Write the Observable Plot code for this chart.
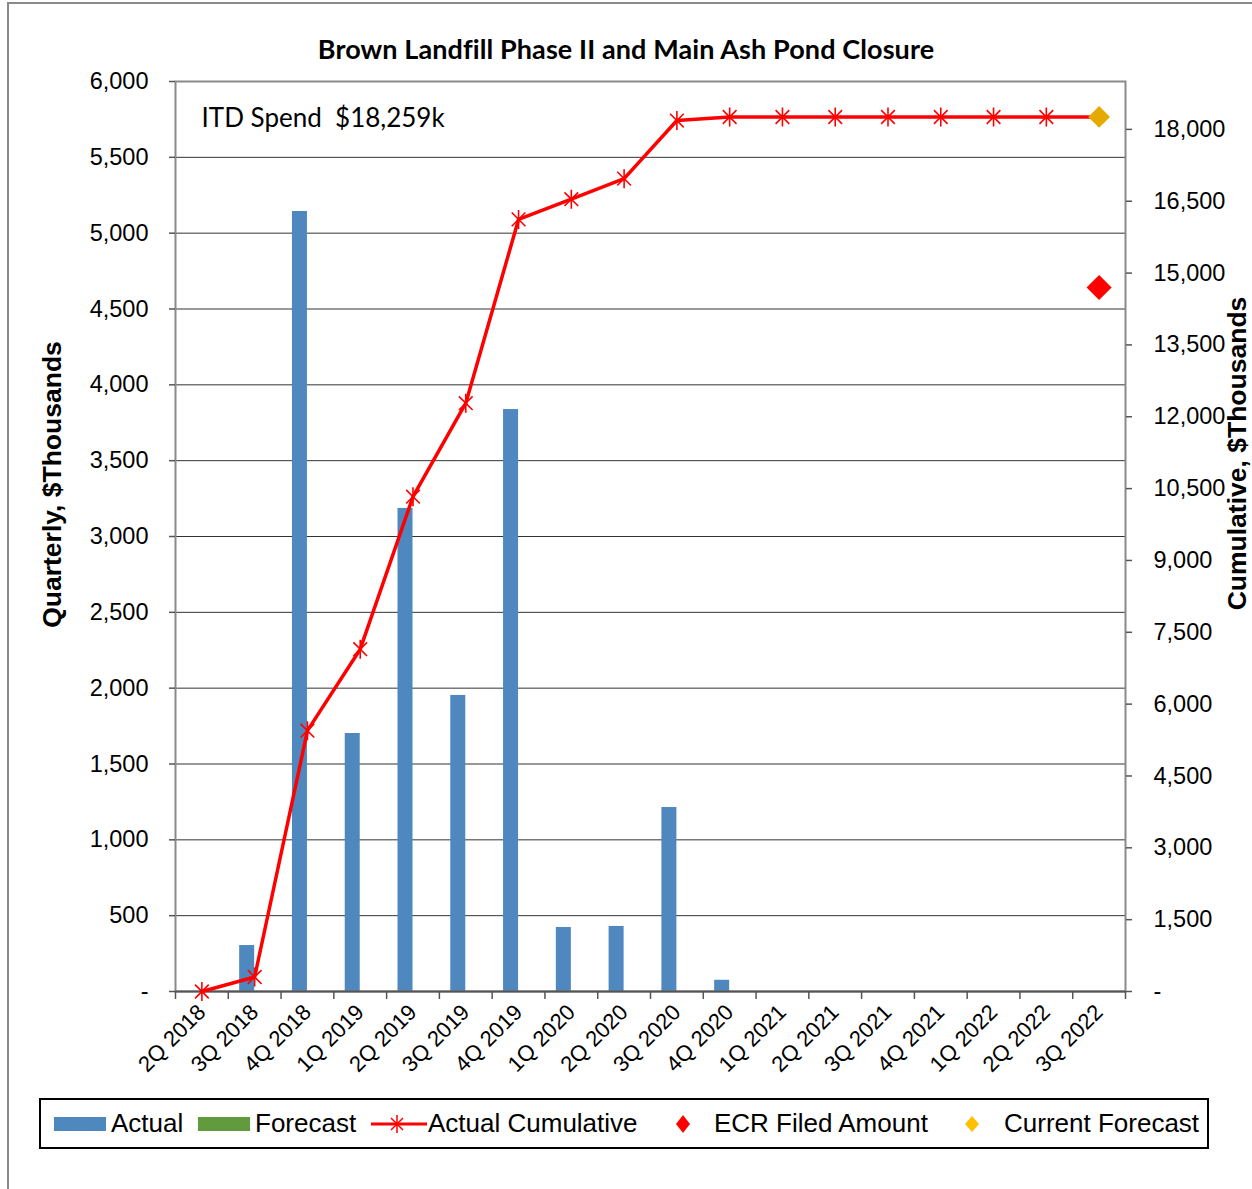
<!DOCTYPE html>
<html>
<head>
<meta charset="utf-8">
<script src="https://cdn.jsdelivr.net/npm/d3@7"></script>
<script src="https://cdn.jsdelivr.net/npm/@observablehq/plot@0.6"></script>
<style>
  html, body { margin: 0; padding: 0; background: #fff; }
  body { width: 1252px; height: 1189px; position: relative; overflow: hidden; font-family: "Liberation Sans", Arial, sans-serif; }
  #frame { position: absolute; left: 7px; top: 2px; width: 1300px; height: 1300px; border: 2px solid #8a8a8a; box-sizing: border-box; }
  #title { position: absolute; left: 0; width: 1252px; top: 32px; text-align: center; font-family: Lato, "Open Sans", sans-serif; font-weight: 700; font-size: 27px; color: #000; letter-spacing: 0.1px; }
  #chart { position: absolute; left: 0; top: 0; }
  #legend { position: absolute; left: 39px; top: 1098px; width: 1170px; height: 51px; border: 2px solid #000; box-sizing: border-box; font-size: 26px; }
  .item { position: absolute; top: 0; height: 47px; display: flex; align-items: center; white-space: nowrap; }
  .item svg { display: block; }
</style>
</head>
<body>
<div id="frame"></div>
<div id="chart"></div>
<div id="title">Brown Landfill Phase II and Main Ash Pond Closure</div>
<div id="legend"></div>
<script>
const quarters = ["2Q 2018","3Q 2018","4Q 2018","1Q 2019","2Q 2019","3Q 2019","4Q 2019","1Q 2020","2Q 2020","3Q 2020","4Q 2020","1Q 2021","2Q 2021","3Q 2021","4Q 2021","1Q 2022","2Q 2022","3Q 2022"];
const actual = [0, 303, 5143, 1701, 3185, 1952, 3837, 422, 429, 1213, 74, 0, 0, 0, 0, 0, 0, 0];
const cumulative = [0, 303, 5446, 7147, 10332, 12284, 16121, 16543, 16972, 18185, 18259, 18259, 18259, 18259, 18259, 18259, 18259, 18259];
const ecrFiled = [{q: "3Q 2022", v: 14700}];
const currentForecast = [{q: "3Q 2022", v: 18259}];
const leftTicks = [0,500,1000,1500,2000,2500,3000,3500,4000,4500,5000,5500,6000];
const rightTicks = [0,1500,3000,4500,6000,7500,9000,10500,12000,13500,15000,16500,18000];
const leftMax = 6000, rightMax = 19000;
const itdLabel = "ITD Spend  $18,259k";

const k = leftMax / rightMax;
const fmt = d3.format(",");
const data = quarters.map((q, i) => ({q, actual: actual[i], cum: cumulative[i]}));

const W = 1252, H = 1090, mL = 175, mR = 127, mT = 81, mB = 99;
const band = (W - mL - mR) / quarters.length;

const asterisk = {
  draw(ctx, size) {
    const r = Math.sqrt(size / Math.PI);
    const a = r * 0.72;
    ctx.moveTo(-a, -a); ctx.lineTo(a, a);
    ctx.moveTo(-a, a); ctx.lineTo(a, -a);
    ctx.moveTo(0, -r); ctx.lineTo(0, r);
  }
};

const chart = Plot.plot({
  width: W, height: H,
  marginLeft: mL, marginRight: mR, marginTop: mT, marginBottom: mB,
  style: {fontFamily: '"Liberation Sans", Arial, sans-serif', color: "#000", background: "transparent", overflow: "visible"},
  x: {type: "band", domain: quarters, padding: 0, round: false},
  y: {domain: [0, leftMax]},
  marks: [
    Plot.ruleY(leftTicks.filter(d => d > 0 && d < leftMax), {stroke: "#333", strokeWidth: 1}),
    Plot.barY(data, {x: "q", y: "actual", fill: "#4F88BE", insetLeft: band / 2 - 15, insetRight: band / 2}),
    Plot.frame({stroke: "#8a8a8a", strokeWidth: 2}),
    Plot.ruleY([0], {stroke: "#555", strokeWidth: 2}),
    Plot.axisY({anchor: "left", ticks: leftTicks, tickSize: 6, tickPadding: 21, fontSize: 23.5, tickFormat: d => d === 0 ? "-" : fmt(d), label: null, stroke: "#555", strokeWidth: 1.5}),
    Plot.axisY({anchor: "right", ticks: rightTicks.map(d => d * k), tickSize: 6, tickPadding: 22, fontSize: 23.5, tickFormat: d => { const v = Math.round(d / k); return v === 0 ? "-" : fmt(v); }, label: null, stroke: "#555", strokeWidth: 1.5}),
    Plot.axisX({ticks: quarters, tickSize: 8, dx: band / 2, text: null, label: null, stroke: "#555", strokeWidth: 1.5}),
    Plot.axisX({ticks: [quarters[0]], tickSize: 8, dx: -band / 2, text: null, label: null, stroke: "#555", strokeWidth: 1.5}),
    Plot.axisX({ticks: quarters, tickSize: 0, tickPadding: 17, tickRotate: -45, fontSize: 22, dx: 0, label: null}),
    Plot.line(data, {x: "q", y: d => d.cum * k, stroke: "#FF0000", strokeWidth: 3.5}),
    Plot.dot(data.slice(0, -1), {x: "q", y: d => d.cum * k, symbol: asterisk, r: 9.5, stroke: "#FF0000", strokeWidth: 1.6, fill: "none"}),
    Plot.dot(ecrFiled, {x: "q", y: d => d.v * k, symbol: "diamond2", r: 11.3, fill: "#FF0000", stroke: "none"}),
    Plot.dot(currentForecast, {x: "q", y: d => d.v * k, symbol: "diamond2", r: 9.8, fill: "#E5AA00", stroke: "none"}),
    Plot.text([itdLabel], {frameAnchor: "top-left", dx: 26, dy: 27, text: d => d, fontSize: 26, fontFamily: "Lato, sans-serif", textAnchor: "start", lineAnchor: "top", fill: "#000"}),
    Plot.text(["Quarterly, $Thousands"], {frameAnchor: "left", dx: -123, dy: -52, text: d => d, textAnchor: "middle", rotate: -90, fontSize: 26.5, fontWeight: "bold", fill: "#000"}),
    Plot.text(["Cumulative, $Thousands"], {frameAnchor: "right", dx: 112, dy: -83, text: d => d, textAnchor: "middle", rotate: -90, fontSize: 26.5, fontWeight: "bold", fill: "#000"})
  ]
});
document.getElementById("chart").appendChild(chart);

const legendItems = [
  {label: "Actual", left: 12, sym: '<svg width="54" height="16"><rect x="1" y="1" width="52" height="14" fill="#4F88BE"/></svg>', gap: 4},
  {label: "Forecast", left: 156, sym: '<svg width="54" height="16"><rect x="1" y="1" width="52" height="14" fill="#629A3E"/></svg>', gap: 4},
  {label: "Actual Cumulative", left: 329, sym: '<svg width="58" height="22"><line x1="1" y1="11" x2="57" y2="11" stroke="#FF0000" stroke-width="3"/><path d="M21,5L33,17M21,17L33,5M27,2L27,20" stroke="#FF0000" stroke-width="1.5"/></svg>', gap: 0},
  {label: "ECR Filed Amount", left: 632, sym: '<svg width="20" height="22"><path d="M10,2L17,11L10,20L3,11Z" fill="#FF0000"/></svg>', gap: 21},
  {label: "Current Forecast", left: 921, sym: '<svg width="20" height="22"><path d="M10,3L17,11L10,19L3,11Z" fill="#FFC000"/></svg>', gap: 22}
];
const lg = document.getElementById("legend");
for (const it of legendItems) {
  const d = document.createElement("div");
  d.className = "item";
  d.style.left = it.left + "px";
  d.innerHTML = it.sym + '<span style="margin-left:' + it.gap + 'px">' + it.label + '</span>';
  lg.appendChild(d);
}
</script>
</body>
</html>
